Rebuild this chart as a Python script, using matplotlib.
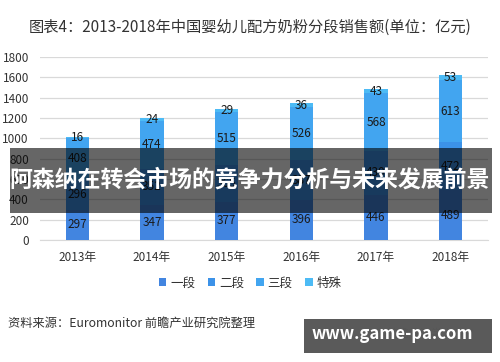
import matplotlib
matplotlib.use("Agg")
import matplotlib.pyplot as plt
import numpy as np
from matplotlib.patches import Rectangle

plt.rcParams['font.family'] = ['Noto Sans CJK SC', 'DejaVu Sans']

years = ['2013年', '2014年', '2015年', '2016年', '2017年', '2018年']
series_names = ['一段', '二段', '三段', '特殊']
stage1 = [297, 347, 377, 396, 446, 489]
stage2 = [296, 352, 365, 387, 430, 472]
stage3 = [408, 474, 515, 526, 568, 613]
special = [16, 24, 29, 36, 43, 53]
colors = ['#4285E0', '#3C92E8', '#42A5F0', '#4DBBF5']

title = '图表4：2013-2018年中国婴幼儿配方奶粉分段销售额(单位：亿元)'
source = '资料来源：Euromonitor 前瞻产业研究院整理'
banner = '阿森纳在转会市场的竞争力分析与未来发展前景'
site = 'www.game-pa.com'

fig = plt.figure(figsize=(5.0, 3.62), dpi=100)
ax = fig.add_axes([0.08, 0.337, 0.896, 0.5055])

x = np.arange(len(years))
bottom = np.zeros(len(years))
for name, vals, c in zip(series_names, [stage1, stage2, stage3, special], colors):
    bars = ax.bar(x, vals, width=0.31, bottom=bottom, color=c, label=name, zorder=3)
    ax.bar_label(bars, labels=[str(v) for v in vals], label_type='center',
                 fontsize=8.5, color='#1a1a1a', zorder=4)
    bottom += np.array(vals)

ax.set_ylim(0, 1800)
ax.set_xlim(-0.5, len(years) - 0.5)
ax.set_yticks(np.arange(0, 1801, 200))
ax.tick_params(axis='y', labelsize=8.5, length=0, pad=8, colors='#333333')
ax.tick_params(axis='x', labelsize=8.5, length=0, pad=8, colors='#333333')
ax.set_xticks(x)
ax.set_xticklabels(years)
ax.grid(axis='y', color='#d9d9d9', linewidth=0.9, zorder=0)
for s in ['top', 'right', 'left']:
    ax.spines[s].set_visible(False)
ax.spines['bottom'].set_color('#d9d9d9')

leg = fig.legend(loc='center', bbox_to_anchor=(0.5, 0.218), ncol=4, frameon=False,
                 fontsize=9, handlelength=0.6, handleheight=0.6, handletextpad=0.3,
                 columnspacing=1.0)
for t in leg.get_texts():
    t.set_color('#333333')

fig.text(0.5, 0.925, title, ha='center', va='center', fontsize=11, color='#333333')
fig.text(0.016, 0.107, source, ha='left', va='center', fontsize=8.8, color='#333333')

# overlay banner
fig.patches.append(Rectangle((0.02, 0.412), 0.964, 0.178, transform=fig.transFigure,
                             facecolor='black', alpha=0.6, edgecolor='none', zorder=10))
fig.text(0.5, 0.502, banner, ha='center', va='center', fontsize=16.5, color='white',
         fontweight='bold', zorder=11)

# site box
fig.text(0.85, 0.08, '@前瞻经济学人APP', ha='center', va='center', fontsize=8,
         color='#888888', zorder=11)
fig.patches.append(Rectangle((0.608, 0.025), 0.376, 0.094, transform=fig.transFigure,
                             facecolor='#555555', alpha=0.97, edgecolor='none', zorder=12))
fig.text(0.785, 0.078, site, ha='center', va='center', fontsize=12, color='white',
         fontweight='bold', zorder=13)

fig.savefig('out.png', dpi=100)
